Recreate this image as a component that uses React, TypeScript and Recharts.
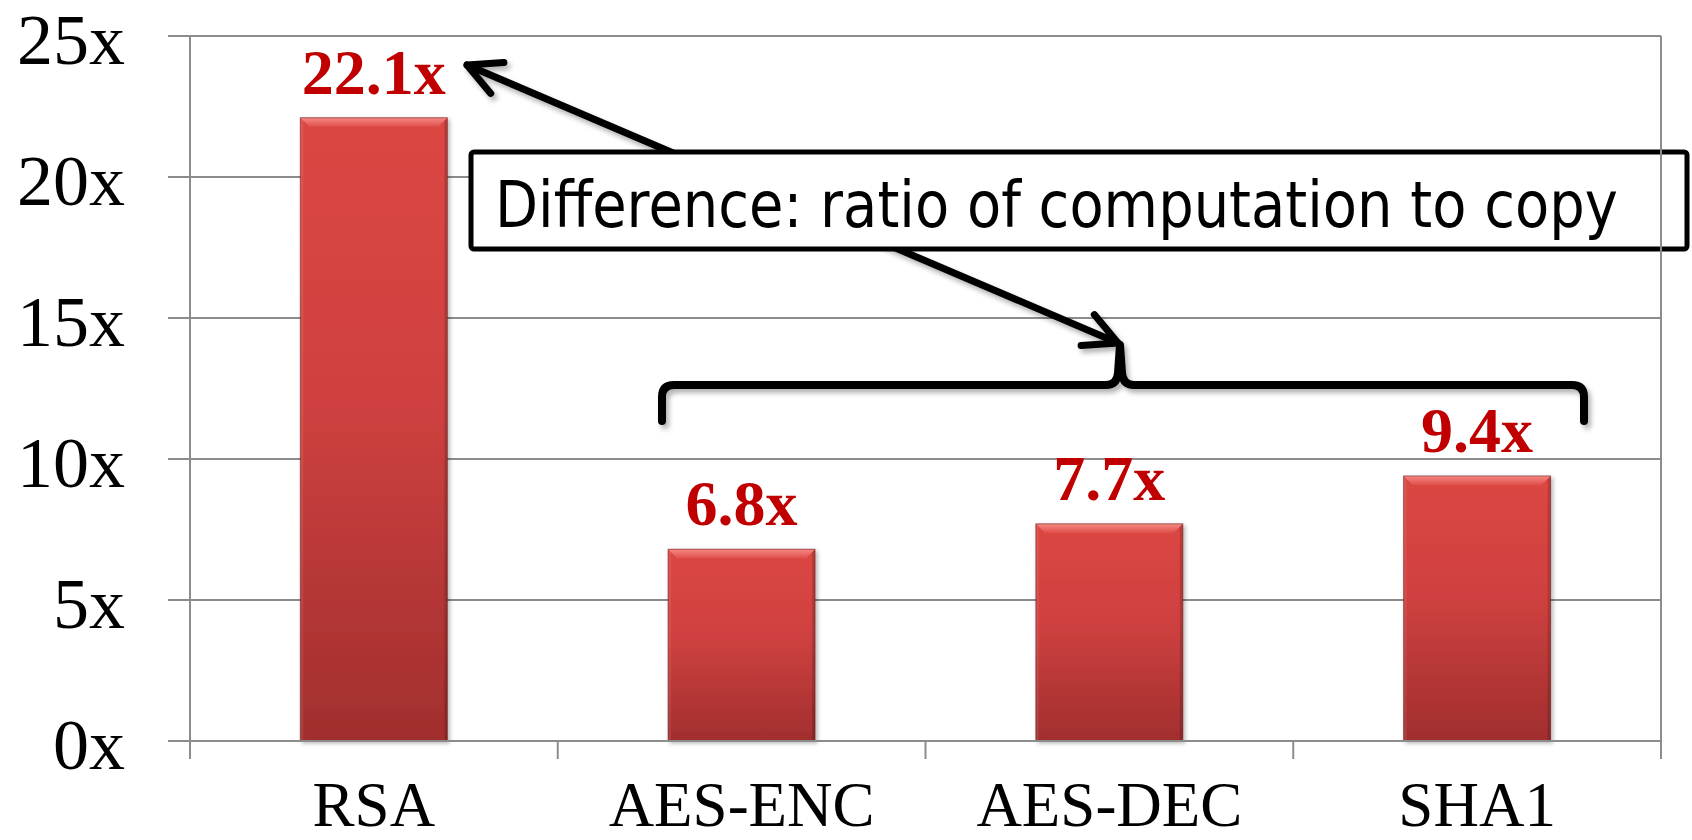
import React from 'react';
import { BarChart, Bar, XAxis, YAxis, CartesianGrid, LabelList, Customized } from 'recharts';

// Speed-up of each crypto kernel
const categories = ['RSA', 'AES-ENC', 'AES-DEC', 'SHA1'];
const speedups = [22.1, 6.8, 7.7, 9.4];
const yTicks = [0, 5, 10, 15, 20, 25];
const calloutText = 'Difference: ratio of computation to copy';

const data = categories.map((name, i) => ({ name, value: speedups[i] }));

// Layout
const W = 1692;
const H = 840;
const MARGIN = { top: 36, right: 31, bottom: 0, left: 0 };
const Y_AXIS_W = 190;
const X_AXIS_H = 99;
const PLOT_LEFT = MARGIN.left + Y_AXIS_W;
const PLOT_RIGHT = W - MARGIN.right;
const PLOT_TOP = MARGIN.top;
const PLOT_BOTTOM = H - MARGIN.bottom - X_AXIS_H;
const BAND = (PLOT_RIGHT - PLOT_LEFT) / categories.length;

const GRID = '#8c8c8c';
const LABEL_RED = '#C00000';
const SERIF = '"Liberation Serif", "Times New Roman", serif';
const SANS = '"DejaVu Sans", Tahoma, Verdana, sans-serif';

// Annotation geometry: double arrow, callout box and brace
const ARROW_A = { x: 467, y: 65 };
const ARROW_B = { x: 1118, y: 343 };
const BOX = { x: 471, y: 152, w: 1216, h: 97 };
const CALLOUT_FONT = 64;
const CALLOUT_WIDTH = 1123;
const BRACE = { left: 662, right: 1584, y: 385, drop: 36, tipX: 1120, tipY: 345 };

// Horizontal squeeze so the callout sentence fits its box with a Tahoma-like width
const calloutScale = (() => {
  try {
    const ctx = document.createElement('canvas').getContext('2d');
    if (!ctx) return 0.82;
    ctx.font = `${CALLOUT_FONT}px "DejaVu Sans"`;
    const w = ctx.measureText(calloutText).width;
    return w > 0 ? Math.min(1, CALLOUT_WIDTH / w) : 0.82;
  } catch (e) {
    return 0.82;
  }
})();

const ValueTick = (props: any) => {
  const { x, y, payload } = props;
  return (
    <text x={x} y={Number(y) + 28} textAnchor="end" fontFamily={SERIF} fontSize={72} fill="#000">
      {`${payload.value}x`}
    </text>
  );
};

const CategoryTick = (props: any) => {
  const { x, payload } = props;
  const index = props.index ?? payload?.index ?? 0;
  const left = x - BAND / 2;
  const right = x + BAND / 2;
  return (
    <g>
      <line x1={left} x2={left} y1={PLOT_BOTTOM} y2={PLOT_BOTTOM + 18} stroke={GRID} strokeWidth={2} />
      {index === categories.length - 1 && (
        <line x1={right} x2={right} y1={PLOT_TOP} y2={PLOT_BOTTOM + 18} stroke={GRID} strokeWidth={2} />
      )}
      <text x={x} y={PLOT_BOTTOM + 85} textAnchor="middle" fontFamily={SERIF} fontSize={63} fill="#000">
        {payload.value}
      </text>
    </g>
  );
};

const ValueLabel = (props: any) => {
  const { x, y, width, value } = props;
  return (
    <text
      x={Number(x) + Number(width) / 2}
      y={Number(y) - 24}
      textAnchor="middle"
      fontFamily={SERIF}
      fontWeight="bold"
      fontSize={64}
      fill={LABEL_RED}
    >
      {`${value}x`}
    </text>
  );
};

const BevelBar = (props: any) => {
  const { x, y, width, height } = props;
  if (!height || height <= 0) return null;
  const b = Math.min(9, height / 2, width / 2);
  return (
    <g filter="url(#barShadow)">
      <rect x={x} y={y} width={width} height={height} fill="url(#barBody)" />
      <polygon
        points={`${x},${y} ${x + width},${y} ${x + width - b},${y + b} ${x + b},${y + b}`}
        fill="url(#barBevelTop)"
      />
      <polygon
        points={`${x},${y} ${x + 3},${y + 3} ${x + 3},${y + height} ${x},${y + height}`}
        fill="#ffffff"
        opacity={0.08}
      />
      <polygon
        points={`${x + width},${y} ${x + width - 3},${y + 3} ${x + width - 3},${y + height} ${x + width},${y + height}`}
        fill="#000000"
        opacity={0.15}
      />
      <rect
        x={x}
        y={y}
        width={width}
        height={height}
        fill="none"
        stroke="#5a1212"
        strokeOpacity={0.5}
        strokeWidth={1}
      />
    </g>
  );
};

const arrowHead = (tip: { x: number; y: number }, from: { x: number; y: number }) => {
  const dx = from.x - tip.x;
  const dy = from.y - tip.y;
  const base = Math.atan2(dy, dx);
  const spread = (27 * Math.PI) / 180;
  const len = 37;
  const a1 = { x: tip.x + len * Math.cos(base - spread), y: tip.y + len * Math.sin(base - spread) };
  const a2 = { x: tip.x + len * Math.cos(base + spread), y: tip.y + len * Math.sin(base + spread) };
  return `M ${a1.x} ${a1.y} L ${tip.x} ${tip.y} L ${a2.x} ${a2.y}`;
};

const Annotations = () => {
  const { left, right, y, drop, tipX, tipY } = BRACE;
  const r = 12;
  const bracePath = [
    `M ${left} ${y + drop}`,
    `L ${left} ${y + r}`,
    `Q ${left} ${y} ${left + r} ${y}`,
    `L ${tipX - 14} ${y}`,
    `Q ${tipX - 3} ${y} ${tipX - 2} ${y - 12}`,
    `L ${tipX} ${tipY}`,
    `L ${tipX + 2} ${y - 12}`,
    `Q ${tipX + 3} ${y} ${tipX + 14} ${y}`,
    `L ${right - r} ${y}`,
    `Q ${right} ${y} ${right} ${y + r}`,
    `L ${right} ${y + drop}`,
  ].join(' ');
  return (
    <g>
      <defs>
        <linearGradient id="barBody" x1="0" y1="0" x2="0" y2="1">
          <stop offset="0%" stopColor="#dc4643" />
          <stop offset="45%" stopColor="#cf4140" />
          <stop offset="100%" stopColor="#a12e2e" />
        </linearGradient>
        <linearGradient id="barBevelTop" x1="0" y1="0" x2="0" y2="1">
          <stop offset="0%" stopColor="#f68884" />
          <stop offset="100%" stopColor="#e0504c" />
        </linearGradient>
        <filter id="barShadow" x="-10%" y="-5%" width="125%" height="115%">
          <feDropShadow dx="2" dy="2" stdDeviation="2" floodColor="#000" floodOpacity="0.3" />
        </filter>
        <filter id="inkShadow" x="-5%" y="-20%" width="110%" height="150%">
          <feDropShadow dx="3" dy="4" stdDeviation="2.5" floodColor="#000" floodOpacity="0.3" />
        </filter>
      </defs>
      <g filter="url(#inkShadow)" fill="none" stroke="#000" strokeWidth={7} strokeLinecap="round" strokeLinejoin="round">
        <line x1={ARROW_A.x} y1={ARROW_A.y} x2={ARROW_B.x} y2={ARROW_B.y} />
        <path d={arrowHead(ARROW_A, ARROW_B)} />
        <path d={arrowHead(ARROW_B, ARROW_A)} />
        <path d={bracePath} strokeWidth={8} />
      </g>
      <rect
        x={BOX.x}
        y={BOX.y}
        width={BOX.w}
        height={BOX.h}
        rx={3}
        fill="#fff"
        stroke="#000"
        strokeWidth={5}
      />
      <g transform={`translate(${BOX.x + 24} ${BOX.y + 75}) scale(${calloutScale} 1)`}>
        <text x={0} y={0} fontFamily={SANS} fontSize={CALLOUT_FONT} fill="#000">
          {calloutText}
        </text>
      </g>
    </g>
  );
};

export default function App() {
  return (
    <div style={{ position: 'absolute', left: 0, top: 0, width: W, height: H, background: '#fff' }}>
      <BarChart width={W} height={H} data={data} margin={MARGIN} barCategoryGap="30%">
        <CartesianGrid vertical={false} stroke={GRID} strokeWidth={2} />
        <XAxis
          dataKey="name"
          height={X_AXIS_H}
          interval={0}
          tickLine={false}
          tickSize={0}
          tickMargin={0}
          axisLine={{ stroke: GRID, strokeWidth: 2 }}
          tick={<CategoryTick />}
        />
        <YAxis
          width={Y_AXIS_W}
          domain={[0, 25]}
          ticks={yTicks}
          interval={0}
          tickSize={22}
          tickMargin={43}
          tickLine={{ stroke: GRID, strokeWidth: 2 }}
          axisLine={{ stroke: GRID, strokeWidth: 2 }}
          tick={<ValueTick />}
        />
        <Bar dataKey="value" shape={<BevelBar />} isAnimationActive={false}>
          <LabelList dataKey="value" content={<ValueLabel />} />
        </Bar>
        <Customized component={<Annotations />} />
      </BarChart>
    </div>
  );
}
